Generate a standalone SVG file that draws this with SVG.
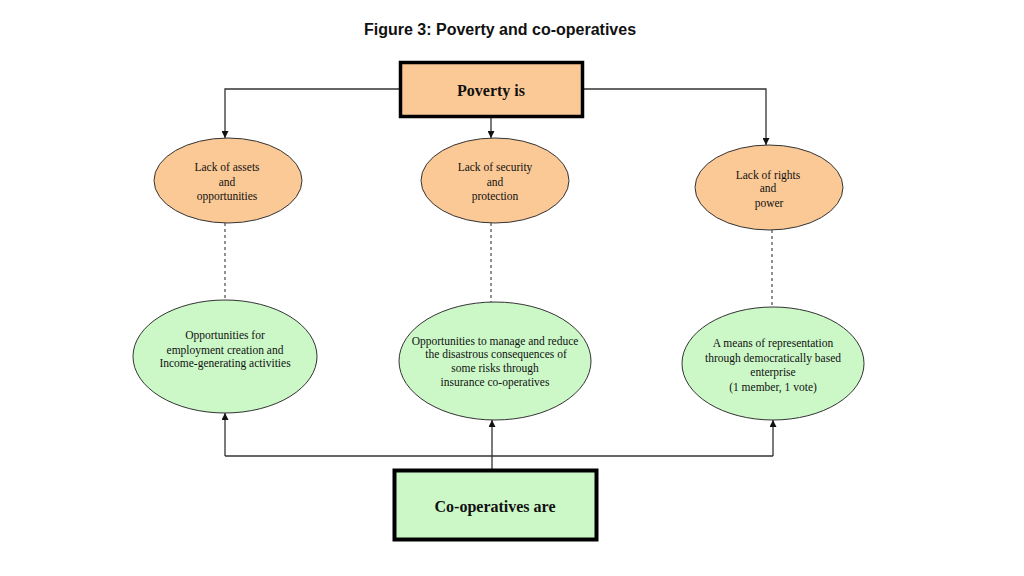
<svg xmlns="http://www.w3.org/2000/svg" width="1024" height="576" viewBox="0 0 1024 576">
<style>
.title{font-family:"Liberation Sans",Arial,sans-serif;font-weight:bold;font-size:16px;fill:#111}
.box-t{font-family:"Liberation Serif","Times New Roman",serif;font-weight:bold;font-size:16px;fill:#111}
.t{font-family:"Liberation Serif","Times New Roman",serif;font-size:11.5px;fill:#111}
.or{fill:#FBC996;stroke:#333;stroke-width:1}
.gr{fill:#CCF8C8;stroke:#333;stroke-width:1}
.conn{fill:none;stroke:#333;stroke-width:1.3}
.dash{fill:none;stroke:#222;stroke-width:1;stroke-dasharray:3,3}
</style>
<defs>
<marker id="arr" viewBox="0 0 10 10" refX="10" refY="5" markerWidth="7" markerHeight="7" markerUnits="userSpaceOnUse" orient="auto">
<path d="M0,0 L10,5 L0,10 z" fill="#111"/>
</marker>
</defs>
<rect width="1024" height="576" fill="#fff"/>
<text class="title" x="500" y="35" text-anchor="middle">Figure 3: Poverty and co-operatives</text>

<g id="connectors">
<polyline class="conn" points="399,89 225,89 225,138" marker-end="url(#arr)"/>
<line class="conn" x1="491" y1="118" x2="491" y2="138" marker-end="url(#arr)"/>
<polyline class="conn" points="584,89 766,89 766,145" marker-end="url(#arr)"/>
<line class="dash" x1="225" y1="223" x2="225" y2="300"/>
<line class="dash" x1="491" y1="223" x2="491" y2="302"/>
<line class="dash" x1="772" y1="230" x2="772" y2="307"/>
<polyline class="conn" points="225,456 225,413" marker-end="url(#arr)"/>
<line class="conn" x1="225" y1="456" x2="773" y2="456"/>
<polyline class="conn" points="773,456 773,420" marker-end="url(#arr)"/>
<line class="conn" x1="492" y1="469" x2="492" y2="420" marker-end="url(#arr)"/>
</g>

<g id="poverty">
<rect x="400.5" y="62.5" width="182" height="54" fill="#FBC996" stroke="#000" stroke-width="3.5"/>
<text class="box-t" x="491" y="96" text-anchor="middle">Poverty is</text>
</g>

<g id="lack-assets">
<ellipse class="or" cx="228" cy="180.5" rx="74" ry="42.5"/>
<text class="t" text-anchor="middle"><tspan x="227" y="171">Lack of assets</tspan><tspan x="227" y="186">and</tspan><tspan x="227" y="200">opportunities</tspan></text>
</g>

<g id="lack-security">
<ellipse class="or" cx="495" cy="180.5" rx="74" ry="42.5"/>
<text class="t" text-anchor="middle"><tspan x="495" y="171">Lack of security</tspan><tspan x="495" y="186">and</tspan><tspan x="495" y="200">protection</tspan></text>
</g>

<g id="lack-rights">
<ellipse class="or" cx="769" cy="187.5" rx="74" ry="42.5"/>
<text class="t" text-anchor="middle"><tspan x="768" y="179">Lack of rights</tspan><tspan x="768" y="192">and</tspan><tspan x="769" y="207">power</tspan></text>
</g>

<g id="opp-employment">
<ellipse class="gr" cx="225" cy="356.5" rx="92" ry="56.5"/>
<text class="t" text-anchor="middle"><tspan x="225" y="339">Opportunities for</tspan><tspan x="225" y="354">employment creation and</tspan><tspan x="225" y="367">Income-generating activities</tspan></text>
</g>

<g id="opp-risks">
<ellipse class="gr" cx="495" cy="361" rx="96" ry="59"/>
<text class="t" text-anchor="middle"><tspan x="495" y="345">Opportunities to manage and reduce</tspan><tspan x="496" y="358">the disastrous consequences of</tspan><tspan x="495" y="372">some risks through</tspan><tspan x="495" y="386">insurance co-operatives</tspan></text>
</g>

<g id="representation">
<ellipse class="gr" cx="773" cy="363.5" rx="91" ry="56.5"/>
<text class="t" text-anchor="middle"><tspan x="773" y="347">A means of representation</tspan><tspan x="773" y="362">through democratically based</tspan><tspan x="773" y="376">enterprise</tspan><tspan x="773" y="391">(1 member, 1 vote)</tspan></text>
</g>

<g id="cooperatives">
<rect x="394.5" y="470.5" width="202" height="69" fill="#CCF8C8" stroke="#000" stroke-width="4"/>
<text class="box-t" x="495" y="512" text-anchor="middle">Co-operatives are</text>
</g>
</svg>
